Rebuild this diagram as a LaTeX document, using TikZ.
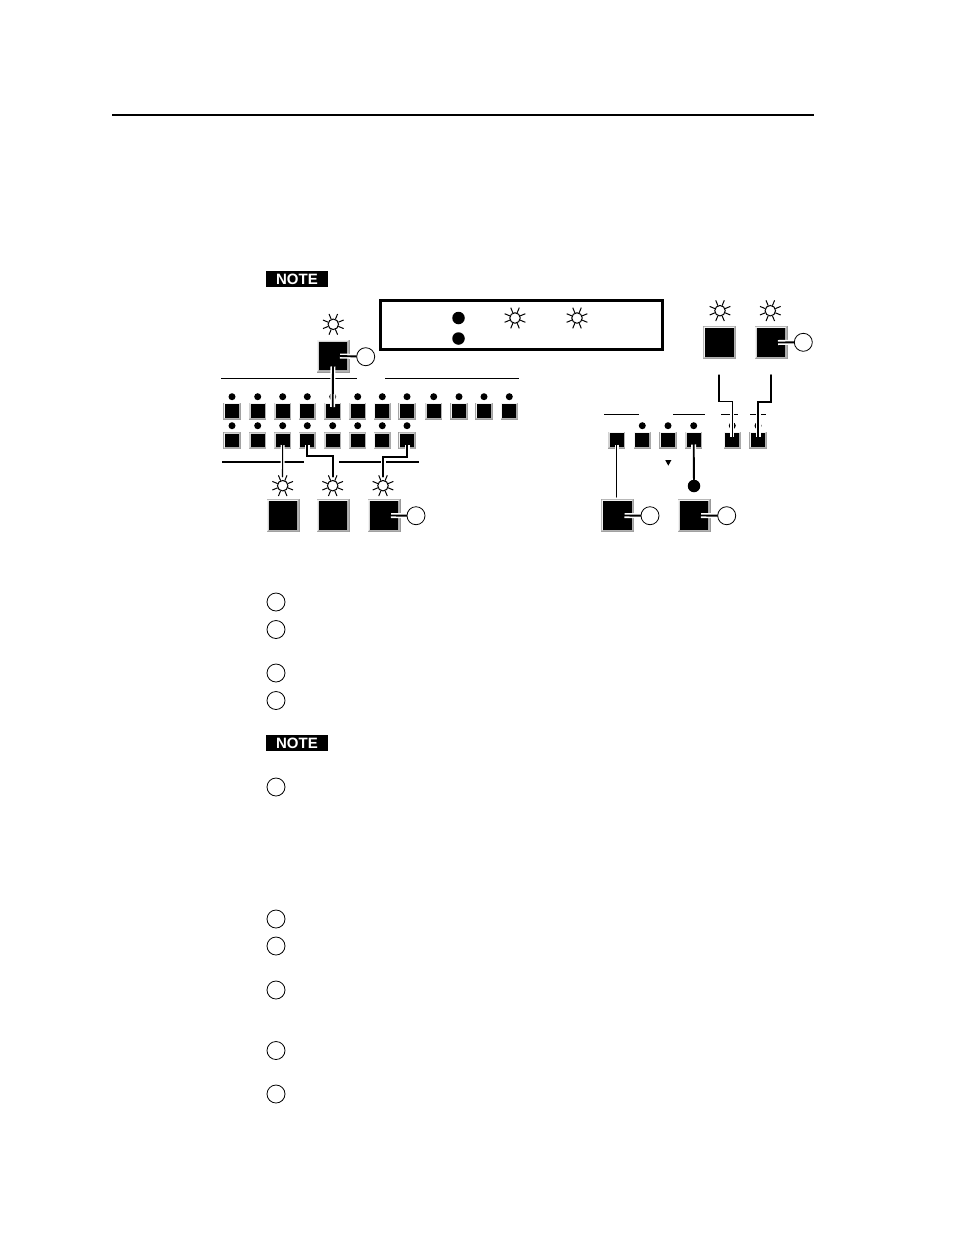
\documentclass[tikz,border=0pt]{standalone}
\usepackage{fontspec}
\setmainfont{Liberation Sans}
\tikzset{
  bigbtn/.style={rectangle,fill=gray!80,minimum size=33pt,inner sep=0pt,outer sep=0pt},
  smallbtn/.style={rectangle,fill=gray!80,minimum width=17.5pt,minimum height=17pt,inner sep=0pt,outer sep=0pt},
  led/.style={circle,fill=black,minimum size=7pt,inner sep=0pt},
  bigled/.style={circle,fill=black,minimum size=12.5pt,inner sep=0pt},
  sun/.style={circle,draw=black,line width=1pt,minimum size=10.5pt,inner sep=0pt},
  ray/.style={line width=1pt},
  callout/.style={circle,draw=black,fill=white,line width=0.8pt,minimum size=18pt,inner sep=0pt},
  rulethin/.style={line width=1pt},
  rulethick/.style={line width=1.7pt},
  connthick/.style={line width=1.9pt,line cap=round,preaction={draw=white,line width=5pt}},
  connthin/.style={line width=1.1pt,line cap=round,preaction={draw=white,line width=4pt}},
  notebox/.style={rectangle,fill=black,text=white,font=\bfseries\fontsize{15}{15}\selectfont,minimum width=62pt,minimum height=16pt,inner sep=0pt},
  legendbox/.style={rectangle,draw=black,line width=3.2pt,minimum width=282pt,minimum height=49pt,inner sep=0pt}
}
% #1 node, #2 outline width, #3 bevel width (outline + bevel)
\newcommand{\bevel}[3]{%
  \fill[gray!10] ([xshift=#2,yshift=-#2]#1.north west) -- ([xshift=-#2,yshift=-#2]#1.north east) -- ([xshift=-#3,yshift=-#3]#1.north east)
     -- ([xshift=#3,yshift=-#3]#1.north west) -- ([xshift=#3,yshift=#3]#1.south west) -- ([xshift=#2,yshift=#2]#1.south west) -- cycle;
  \fill[gray!60] ([xshift=-#2,yshift=#2]#1.south east) -- ([xshift=-#2,yshift=-#2]#1.north east) -- ([xshift=-#3,yshift=-#3]#1.north east)
     -- ([xshift=-#3,yshift=#3]#1.south east) -- ([xshift=#3,yshift=#3]#1.south west) -- ([xshift=#2,yshift=#2]#1.south west) -- cycle;
  \fill[black] ([xshift=#3,yshift=-#3]#1.north west) rectangle ([xshift=-#3,yshift=#3]#1.south east);
}
\newcommand{\bigb}[3]{\node[bigbtn] (#1) at (#2,#3) {}; \bevel{#1}{0.7pt}{2.2pt}}
\newcommand{\smallb}[3]{\node[smallbtn] (#1) at (#2,#3) {}; \bevel{#1}{0.5pt}{1.6pt}}
\newcommand{\sunat}[3]{\node[sun] (#1) at (#2,#3) {};
  \foreach \a in {22.5,67.5,...,337.5} \draw[ray] (#1.center) ++(\a:5.5pt) -- ++(\a:5.7pt);}
\begin{document}
\begin{tikzpicture}[x=1pt,y=-1pt]
\useasboundingbox (0,0) rectangle (954,1235);
% page rule
\coordinate (pl) at (112,115); \coordinate (pr) at (814,115);
\draw[rulethick] (pl) -- (pr);
% notes
\node[notebox] (note1) at (297,279) {NOTE};
\node[notebox] (note2) at (297,743) {NOTE};
% legend
\node[legendbox] (legend) at (521.5,325) {};
\node[bigled] (ld1) at (458.5,318) {};
\node[bigled] (ld2) at (458.5,338.5) {};
\sunat{ls1}{515}{318}
\sunat{ls2}{577}{318}
% rules above/below the small buttons
\coordinate (r1a) at (221,378); \coordinate (r1b) at (357,378);
\coordinate (r2a) at (385,378); \coordinate (r2b) at (519,378);
\coordinate (r3a) at (222,462); \coordinate (r3b) at (304,462);
\coordinate (r4a) at (339,462); \coordinate (r4b) at (419,462);
\coordinate (r5a) at (604,414); \coordinate (r5b) at (639,414);
\coordinate (r6a) at (673,414); \coordinate (r6b) at (705,414);
\coordinate (r7a) at (721,414); \coordinate (r7b) at (738,414);
\coordinate (r8a) at (750,414); \coordinate (r8b) at (766,414);
\draw[rulethin] (r1a) -- (r1b); \draw[rulethin] (r2a) -- (r2b);
\draw[rulethick] (r3a) -- (r3b); \draw[rulethick] (r4a) -- (r4b);
\draw[rulethin] (r5a) -- (r5b); \draw[rulethin] (r6a) -- (r6b);
\draw[rulethin] (r7a) -- (r7b); \draw[rulethin] (r8a) -- (r8b);
% row 1
\foreach \n/\x in {1/232,2/257.7,3/282.7,4/307.3,5/332.7,6/357.7,7/382.3,8/407,9/433.7,10/459,11/484,12/509.3}{
  \node[led] (ua\n) at (\x,396.7) {};
  \smallb{a\n}{\x}{411}
}
% row 2
\foreach \n/\x in {1/232,2/257.7,3/282.7,4/307.3,5/332.7,6/357.7,7/382.3,8/407}{
  \node[led] (ub\n) at (\x,425.7) {};
  \smallb{b\n}{\x}{440.5}
}
% right row
\smallb{c1}{616.7}{440}
\foreach \n/\x in {2/642.3,3/668,4/693.7,5/732.3,6/758}{
  \node[led] (uc\n) at (\x,425.7) {};
  \smallb{c\n}{\x}{440}
}
\coordinate (tri) at (668.3,462.7);
\fill ([xshift=-3pt,yshift=2.5pt]tri) -- ([xshift=3pt,yshift=2.5pt]tri) -- ([yshift=-3pt]tri) -- cycle;
% big buttons
\bigb{top}{333}{356}
\bigb{low1}{283}{515.5}
\bigb{low2}{333}{515.5}
\bigb{low3}{384}{515.5}
\bigb{rt1}{719.5}{342.5}
\bigb{rt2}{771}{342.5}
\bigb{bt1}{617.5}{515.5}
\bigb{bt2}{694}{515.5}
% suns
\sunat{stop}{333.3}{324.3}
\sunat{slow1}{282.7}{485.7}
\sunat{slow2}{332.7}{485.7}
\sunat{slow3}{383}{485.7}
\sunat{srt1}{720}{310.7}
\sunat{srt2}{770.3}{310.7}
\node[bigled] (dot) at (694,486) {};
% free ends of the connectors
\coordinate (e1) at (282.5,476.7);
\coordinate (e2) at (333,476.7);
\coordinate (e3) at (383.3,476.7);
\coordinate (e4) at (616.7,497);
\coordinate (e5) at (719,375);
\coordinate (e6) at (771,375);
% connectors
\draw[connthick] ([yshift=-10.5pt]top.center) -- ([yshift=4pt]a5.center);
\draw[connthin] ([yshift=-4.5pt]b3.center) -- (e1);
\draw[connthick] ([yshift=-4.5pt]b4.center) |- (333,456) -- (e2);
\draw[connthick] ([yshift=-4.5pt]b8.center) |- (383.3,457) -- (e3);
\draw[connthin] ([yshift=-4.5pt]c1.center) -- (e4);
\draw[connthick] ([yshift=-4.5pt]c4.center) -- (dot);
\draw[connthin] (e5) |- (732.3,401.7) -- ([yshift=3pt]c5.center);
\draw[connthick] (e6) |- (758,401.7) -- ([yshift=3pt]c6.center);
% numbered callouts
\foreach \nm/\x/\y/\b in {ca/365.7/356.7/top,cb/416/515.7/low3,cc/803.3/342.3/rt2,cd/650/515.7/bt1,ce/726.7/515.7/bt2}{
  \draw[connthick] ([xshift=7pt]\b.center) -- (\x,\y);
  \node[callout] (\nm) at (\x,\y) {};
}
\foreach \n/\y in {1/602,2/629.5,3/673,4/700.5,5/787,6/919,7/946,8/990,9/1050.5,10/1094}
  \node[callout] (step\n) at (276,\y) {};
\end{tikzpicture}
\end{document}
